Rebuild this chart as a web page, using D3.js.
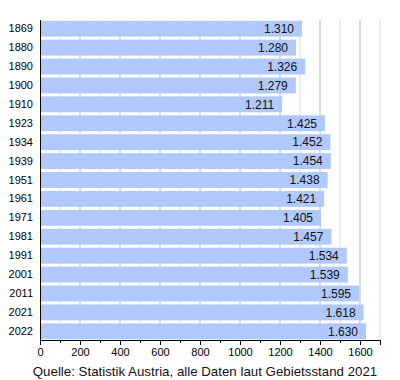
<!DOCTYPE html>
<html>
<head>
<meta charset="utf-8">
<script src="https://cdn.jsdelivr.net/npm/d3@7"></script>
<style>
    body { margin: 0; background: #fff; }
    svg { display: block; font-family: "Liberation Sans", Arial, sans-serif; }
</style>
</head>
<body>
<svg id="chart" width="400" height="380"></svg>
<script>
// Data
const years = ["1869", "1880", "1890", "1900", "1910", "1923", "1934", "1939", "1951",
               "1961", "1971", "1981", "1991", "2001", "2011", "2021", "2022"];
const population = [1310, 1280, 1326, 1279, 1211, 1425, 1452, 1454, 1438,
                    1421, 1405, 1457, 1534, 1539, 1595, 1618, 1630];
const xTicks = [0, 200, 400, 600, 800, 1000, 1200, 1400, 1600];
const caption = "Quelle: Statistik Austria, alle Daten laut Gebietsstand 2021";

// Layout
const margin = { top: 20, right: 20, bottom: 40, left: 40 };
const width = 400 - margin.left - margin.right;
const height = 380 - margin.top - margin.bottom;

const svg = d3.select("#chart");
const chart = svg.append("g")
    .attr("transform", `translate(${margin.left},${margin.top})`);

// Scales
const x = d3.scaleLinear().domain([0, 1700]).range([0, width]);
const y = d3.scaleBand().domain(years).range([0, height]).paddingInner(0.16).paddingOuter(0.04);

// Grid lines (minor then major)
chart.append("g")
    .selectAll("line")
    .data(d3.range(100, 1701, 200))
    .join("line")
    .attr("x1", d => x(d)).attr("x2", d => x(d))
    .attr("y1", 0).attr("y2", height)
    .attr("stroke", "#dcdcdc");

chart.append("g")
    .selectAll("line")
    .data(xTicks.slice(1))
    .join("line")
    .attr("x1", d => x(d)).attr("x2", d => x(d))
    .attr("y1", 0).attr("y2", height)
    .attr("stroke", "#b4b4b4");

// Bars
chart.append("g")
    .selectAll("rect")
    .data(years)
    .join("rect")
    .attr("x", 0)
    .attr("y", d => y(d))
    .attr("width", (d, i) => x(population[i]))
    .attr("height", y.bandwidth())
    .attr("fill", "#b0c8fa");

// Value labels
const fmt = v => d3.format(",")(v).replace(/,/g, ".");
chart.append("g")
    .selectAll("text")
    .data(years)
    .join("text")
    .attr("x", (d, i) => x(population[i]) - 8)
    .attr("y", d => y(d) + y.bandwidth() / 2)
    .attr("dy", "0.36em")
    .attr("text-anchor", "end")
    .attr("font-size", 12)
    .attr("fill", "#111")
    .text((d, i) => fmt(population[i]));

// X axis: minor ticks
chart.append("g")
    .attr("transform", `translate(0,${height})`)
    .call(d3.axisBottom(x).tickValues(d3.range(100, 1701, 200)).tickSize(3).tickFormat(""))
    .call(g => g.select(".domain").remove())
    .call(g => g.selectAll("line").attr("stroke", "#000"));

// X axis: major ticks
chart.append("g")
    .attr("transform", `translate(0,${height})`)
    .call(d3.axisBottom(x).tickValues(xTicks).tickSize(5).tickSizeOuter(5).tickFormat(d => d))
    .call(g => g.selectAll("text").attr("font-size", 11).attr("fill", "#000").attr("font-family", "Liberation Sans, Arial, sans-serif"))
    .call(g => g.select(".domain").attr("stroke", "#000"));

// Y axis
chart.append("g")
    .call(d3.axisLeft(y).tickSize(0).tickPadding(7))
    .call(g => g.select(".domain").attr("stroke", "#000").attr("d", `M0.5,0V${height}`))
    .call(g => g.selectAll("text").attr("font-size", 11).attr("fill", "#000").attr("font-family", "Liberation Sans, Arial, sans-serif"));

// Caption
svg.append("text")
    .attr("x", 205)
    .attr("y", 376)
    .attr("text-anchor", "middle")
    .attr("font-size", 13.3)
    .attr("fill", "#111")
    .text(caption);
</script>
</body>
</html>
